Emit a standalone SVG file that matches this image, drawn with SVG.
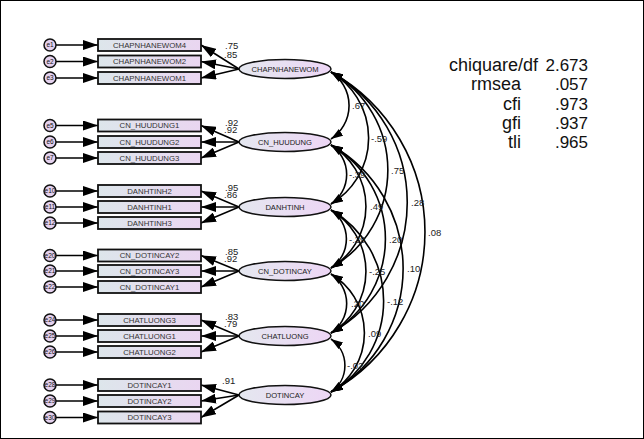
<svg xmlns="http://www.w3.org/2000/svg" width="644" height="439" viewBox="0 0 644 439">
  <defs>
    <linearGradient id="gBox" x1="0" y1="0" x2="1" y2="0">
      <stop offset="0" stop-color="#dde6eb"/>
      <stop offset="1" stop-color="#ead6f1"/>
    </linearGradient>
    <linearGradient id="gLat" x1="0" y1="0" x2="1" y2="0">
      <stop offset="0" stop-color="#e4e7ef"/>
      <stop offset="1" stop-color="#edd6f5"/>
    </linearGradient>
    <marker id="ah" markerUnits="userSpaceOnUse" markerWidth="15" markerHeight="10" refX="15" refY="5" orient="auto">
      <path d="M0,0 L15,5 L0,10 z" fill="#000"/>
    </marker>
    <marker id="ac" markerUnits="userSpaceOnUse" markerWidth="12" markerHeight="8" refX="12" refY="4" orient="auto-start-reverse">
      <path d="M0,0 L12,4 L0,8 z" fill="#000"/>
    </marker>
  </defs>
  <style>
    .box { fill: url(#gBox); stroke: #111; stroke-width: 1.8; }
    .lat { fill: url(#gLat); stroke: #111; stroke-width: 1.5; }
    .err { fill: #e4d1ee; stroke: #111; stroke-width: 1.5; }
    .ln { stroke: #000; stroke-width: 1.6; fill: none; }
    .arr { marker-end: url(#ah); }
    .arc { stroke: #000; stroke-width: 1.6; fill: none; marker-start: url(#ac); marker-end: url(#ac); }
    .bt { font-family: "Liberation Sans", Arial, sans-serif; font-size: 7.8px; fill: #333; text-anchor: middle; }
    .lt { font-family: "Liberation Sans", Arial, sans-serif; font-size: 7.6px; fill: #222; text-anchor: middle; }
    .et { font-family: "Liberation Sans", Arial, sans-serif; font-size: 6.5px; fill: #111; text-anchor: middle; }
    .num { font-family: "Liberation Sans", Arial, sans-serif; font-size: 9.5px; fill: #222; }
    .fit { font-family: "Liberation Sans", Arial, sans-serif; font-size: 17px; fill: #111; text-anchor: end; }
    .fl { font-size: 18px; }
  </style>

  <rect x="0.5" y="0.5" width="643" height="438" fill="#fff" stroke="#000" stroke-width="1"/>

  <!-- connectors: error terms, loadings, covariances -->
  <g id="connectors">
    <g id="error-paths">
      <line class="ln arr" x1="56" y1="45" x2="98" y2="45"/>
      <line class="ln arr" x1="56" y1="61.5" x2="98" y2="61.5"/>
      <line class="ln arr" x1="56" y1="78" x2="98" y2="78"/>
      <line class="ln arr" x1="56" y1="125.5" x2="98" y2="125.5"/>
      <line class="ln arr" x1="56" y1="142" x2="98" y2="142"/>
      <line class="ln arr" x1="56" y1="158" x2="98" y2="158"/>
      <line class="ln arr" x1="56" y1="191" x2="98" y2="191"/>
      <line class="ln arr" x1="56" y1="207" x2="98" y2="207"/>
      <line class="ln arr" x1="56" y1="223" x2="98" y2="223"/>
      <line class="ln arr" x1="56" y1="255.5" x2="98" y2="255.5"/>
      <line class="ln arr" x1="56" y1="271" x2="98" y2="271"/>
      <line class="ln arr" x1="56" y1="287" x2="98" y2="287"/>
      <line class="ln arr" x1="56" y1="320" x2="98" y2="320"/>
      <line class="ln arr" x1="56" y1="336" x2="98" y2="336"/>
      <line class="ln arr" x1="56" y1="352" x2="98" y2="352"/>
      <line class="ln arr" x1="56" y1="385" x2="98" y2="385"/>
      <line class="ln arr" x1="56" y1="401" x2="98" y2="401"/>
      <line class="ln arr" x1="56" y1="417.5" x2="98" y2="417.5"/>
    </g>
    <g id="loadings">
      <line class="ln arr" x1="239" y1="69" x2="201" y2="45"/>
      <line class="ln arr" x1="239" y1="69" x2="201" y2="61.5"/>
      <line class="ln arr" x1="239" y1="69" x2="201" y2="78"/>
      <line class="ln arr" x1="239" y1="142" x2="201" y2="125.5"/>
      <line class="ln arr" x1="239" y1="142" x2="201" y2="142"/>
      <line class="ln arr" x1="239" y1="142" x2="201" y2="158"/>
      <line class="ln arr" x1="239" y1="207" x2="201" y2="191"/>
      <line class="ln arr" x1="239" y1="207" x2="201" y2="207"/>
      <line class="ln arr" x1="239" y1="207" x2="201" y2="223"/>
      <line class="ln arr" x1="239" y1="271" x2="201" y2="255.5"/>
      <line class="ln arr" x1="239" y1="271" x2="201" y2="271"/>
      <line class="ln arr" x1="239" y1="271" x2="201" y2="287"/>
      <line class="ln arr" x1="239" y1="336" x2="201" y2="320"/>
      <line class="ln arr" x1="239" y1="336" x2="201" y2="336"/>
      <line class="ln arr" x1="239" y1="336" x2="201" y2="352"/>
      <line class="ln arr" x1="239" y1="395" x2="201" y2="385"/>
      <line class="ln arr" x1="239" y1="395" x2="201" y2="401"/>
      <line class="ln arr" x1="239" y1="395" x2="201" y2="417.5"/>
    </g>
    <g id="covariances">
      <path class="arc" d="M331,72 A40.1,40.1 0 0 1 331,139"/>
      <path class="arc" d="M331,72 A76.7,76.7 0 0 1 331,204"/>
      <path class="arc" d="M331,72 A112.9,112.9 0 0 1 331,268"/>
      <path class="arc" d="M331,72 A149.8,149.8 0 0 1 331,333"/>
      <path class="arc" d="M331,72 A183.2,183.2 0 0 1 331,392"/>
      <path class="arc" d="M331,145 A35.6,35.6 0 0 1 331,204"/>
      <path class="arc" d="M331,145 A71.6,71.6 0 0 1 331,268"/>
      <path class="arc" d="M331,145 A108.4,108.4 0 0 1 331,333"/>
      <path class="arc" d="M331,145 A141.8,141.8 0 0 1 331,392"/>
      <path class="arc" d="M331,210 A35,35 0 0 1 331,268"/>
      <path class="arc" d="M331,210 A71.6,71.6 0 0 1 331,333"/>
      <path class="arc" d="M331,210 A105,105 0 0 1 331,392"/>
      <path class="arc" d="M331,274 A35.6,35.6 0 0 1 331,333"/>
      <path class="arc" d="M331,274 A68.8,68.8 0 0 1 331,392"/>
      <path class="arc" d="M331,339 A32.2,32.2 0 0 1 331,392"/>
    </g>
  </g>

  <!-- loading estimates -->
  <g id="loading-values" class="num">
    <text x="225" y="49">.75</text>
    <text x="224" y="58">.85</text>
    <text x="225" y="126">.92</text>
    <text x="224" y="133">.92</text>
    <text x="225" y="191">.95</text>
    <text x="224" y="198">.86</text>
    <text x="225" y="255">.85</text>
    <text x="224" y="262">.92</text>
    <text x="225" y="320">.83</text>
    <text x="224" y="327">.79</text>
    <text x="222" y="384">.91</text>
  </g>

  <!-- correlation estimates -->
  <g id="correlation-values" class="num">
    <text x="352" y="109">.67</text>
    <text x="371" y="142">-.59</text>
    <text x="391" y="174">.75</text>
    <text x="411" y="206">.28</text>
    <text x="428" y="236">.08</text>
    <text x="349" y="178">-.39</text>
    <text x="370" y="210">.49</text>
    <text x="389" y="243">.20</text>
    <text x="407" y="272">.10</text>
    <text x="349" y="243">-.39</text>
    <text x="369" y="275">-.25</text>
    <text x="387" y="305">-.12</text>
    <text x="351" y="307">.20</text>
    <text x="368" y="337">.09</text>
    <text x="347" y="369">-.02</text>
  </g>

  <!-- measurement errors -->
  <g id="e1"><ellipse class="err" cx="50" cy="45" rx="6" ry="6"/><text class="et" x="50" y="47.3">e1</text></g>
  <g id="e2"><ellipse class="err" cx="50" cy="61.5" rx="6" ry="6"/><text class="et" x="50" y="63.8">e2</text></g>
  <g id="e3"><ellipse class="err" cx="50" cy="78" rx="6" ry="6"/><text class="et" x="50" y="80.3">e3</text></g>
  <g id="e5"><ellipse class="err" cx="50" cy="125.5" rx="6" ry="6"/><text class="et" x="50" y="127.8">e5</text></g>
  <g id="e6"><ellipse class="err" cx="50" cy="142" rx="6" ry="6"/><text class="et" x="50" y="144.3">e6</text></g>
  <g id="e7"><ellipse class="err" cx="50" cy="158" rx="6" ry="6"/><text class="et" x="50" y="160.3">e7</text></g>
  <g id="e10"><ellipse class="err" cx="50" cy="191" rx="6" ry="6"/><text class="et" x="50" y="193.3">e10</text></g>
  <g id="e11"><ellipse class="err" cx="50" cy="207" rx="6" ry="6"/><text class="et" x="50" y="209.3">e11</text></g>
  <g id="e12"><ellipse class="err" cx="50" cy="223" rx="6" ry="6"/><text class="et" x="50" y="225.3">e12</text></g>
  <g id="e20"><ellipse class="err" cx="50" cy="255.5" rx="6" ry="6"/><text class="et" x="50" y="257.8">e20</text></g>
  <g id="e21"><ellipse class="err" cx="50" cy="271" rx="6" ry="6"/><text class="et" x="50" y="273.3">e21</text></g>
  <g id="e22"><ellipse class="err" cx="50" cy="287" rx="6" ry="6"/><text class="et" x="50" y="289.3">e22</text></g>
  <g id="e24"><ellipse class="err" cx="50" cy="320" rx="6" ry="6"/><text class="et" x="50" y="322.3">e24</text></g>
  <g id="e25"><ellipse class="err" cx="50" cy="336" rx="6" ry="6"/><text class="et" x="50" y="338.3">e25</text></g>
  <g id="e26"><ellipse class="err" cx="50" cy="352" rx="6" ry="6"/><text class="et" x="50" y="354.3">e26</text></g>
  <g id="e28"><ellipse class="err" cx="50" cy="385" rx="6" ry="6"/><text class="et" x="50" y="387.3">e28</text></g>
  <g id="e29"><ellipse class="err" cx="50" cy="401" rx="6" ry="6"/><text class="et" x="50" y="403.3">e29</text></g>
  <g id="e30"><ellipse class="err" cx="50" cy="417.5" rx="6" ry="6"/><text class="et" x="50" y="419.8">e30</text></g>

  <!-- observed indicators -->
  <g id="CHAPNHANEWOM4"><rect class="box" x="98" y="39" width="103" height="12"/><text class="bt" x="149.5" y="47.8">CHAPNHANEWOM4</text></g>
  <g id="CHAPNHANEWOM2"><rect class="box" x="98" y="55.5" width="103" height="12"/><text class="bt" x="149.5" y="64.3">CHAPNHANEWOM2</text></g>
  <g id="CHAPNHANEWOM1"><rect class="box" x="98" y="72" width="103" height="12"/><text class="bt" x="149.5" y="80.8">CHAPNHANEWOM1</text></g>
  <g id="CN_HUUDUNG1"><rect class="box" x="98" y="119.5" width="103" height="12"/><text class="bt" x="149.5" y="128.3">CN_HUUDUNG1</text></g>
  <g id="CN_HUUDUNG2"><rect class="box" x="98" y="136" width="103" height="12"/><text class="bt" x="149.5" y="144.8">CN_HUUDUNG2</text></g>
  <g id="CN_HUUDUNG3"><rect class="box" x="98" y="152" width="103" height="12"/><text class="bt" x="149.5" y="160.8">CN_HUUDUNG3</text></g>
  <g id="DANHTINH2"><rect class="box" x="98" y="185" width="103" height="12"/><text class="bt" x="149.5" y="193.8">DANHTINH2</text></g>
  <g id="DANHTINH1"><rect class="box" x="98" y="201" width="103" height="12"/><text class="bt" x="149.5" y="209.8">DANHTINH1</text></g>
  <g id="DANHTINH3"><rect class="box" x="98" y="217" width="103" height="12"/><text class="bt" x="149.5" y="225.8">DANHTINH3</text></g>
  <g id="CN_DOTINCAY2"><rect class="box" x="98" y="249.5" width="103" height="12"/><text class="bt" x="149.5" y="258.3">CN_DOTINCAY2</text></g>
  <g id="CN_DOTINCAY3"><rect class="box" x="98" y="265" width="103" height="12"/><text class="bt" x="149.5" y="273.8">CN_DOTINCAY3</text></g>
  <g id="CN_DOTINCAY1"><rect class="box" x="98" y="281" width="103" height="12"/><text class="bt" x="149.5" y="289.8">CN_DOTINCAY1</text></g>
  <g id="CHATLUONG3"><rect class="box" x="98" y="314" width="103" height="12"/><text class="bt" x="149.5" y="322.8">CHATLUONG3</text></g>
  <g id="CHATLUONG1"><rect class="box" x="98" y="330" width="103" height="12"/><text class="bt" x="149.5" y="338.8">CHATLUONG1</text></g>
  <g id="CHATLUONG2"><rect class="box" x="98" y="346" width="103" height="12"/><text class="bt" x="149.5" y="354.8">CHATLUONG2</text></g>
  <g id="DOTINCAY1"><rect class="box" x="98" y="379" width="103" height="12"/><text class="bt" x="149.5" y="387.8">DOTINCAY1</text></g>
  <g id="DOTINCAY2"><rect class="box" x="98" y="395" width="103" height="12"/><text class="bt" x="149.5" y="403.8">DOTINCAY2</text></g>
  <g id="DOTINCAY3"><rect class="box" x="98" y="411.5" width="103" height="12"/><text class="bt" x="149.5" y="420.3">DOTINCAY3</text></g>

  <!-- latent constructs -->
  <g id="CHAPNHANEWOM"><ellipse class="lat" cx="285" cy="69" rx="46" ry="9.5"/><text class="lt" x="285" y="71.7">CHAPNHANEWOM</text></g>
  <g id="CN_HUUDUNG"><ellipse class="lat" cx="285" cy="142" rx="46" ry="9.5"/><text class="lt" x="285" y="144.7">CN_HUUDUNG</text></g>
  <g id="DANHTINH"><ellipse class="lat" cx="285" cy="207" rx="46" ry="9.5"/><text class="lt" x="285" y="209.7">DANHTINH</text></g>
  <g id="CN_DOTINCAY"><ellipse class="lat" cx="285" cy="271" rx="46" ry="9.5"/><text class="lt" x="285" y="273.7">CN_DOTINCAY</text></g>
  <g id="CHATLUONG"><ellipse class="lat" cx="285" cy="336" rx="46" ry="9.5"/><text class="lt" x="285" y="338.7">CHATLUONG</text></g>
  <g id="DOTINCAY"><ellipse class="lat" cx="285" cy="395" rx="46" ry="9.5"/><text class="lt" x="285" y="397.7">DOTINCAY</text></g>

  <!-- model fit summary -->
  <g id="fit-indices" class="fit">
    <text class="fl" x="538" y="71">chiquare/df</text><text x="588" y="71">2.673</text>
    <text class="fl" x="521" y="90">rmsea</text><text x="588" y="90">.057</text>
    <text class="fl" x="521" y="110">cfi</text><text x="588" y="110">.973</text>
    <text class="fl" x="521" y="129">gfi</text><text x="588" y="129">.937</text>
    <text class="fl" x="521" y="148">tli</text><text x="588" y="148">.965</text>
  </g>
</svg>
